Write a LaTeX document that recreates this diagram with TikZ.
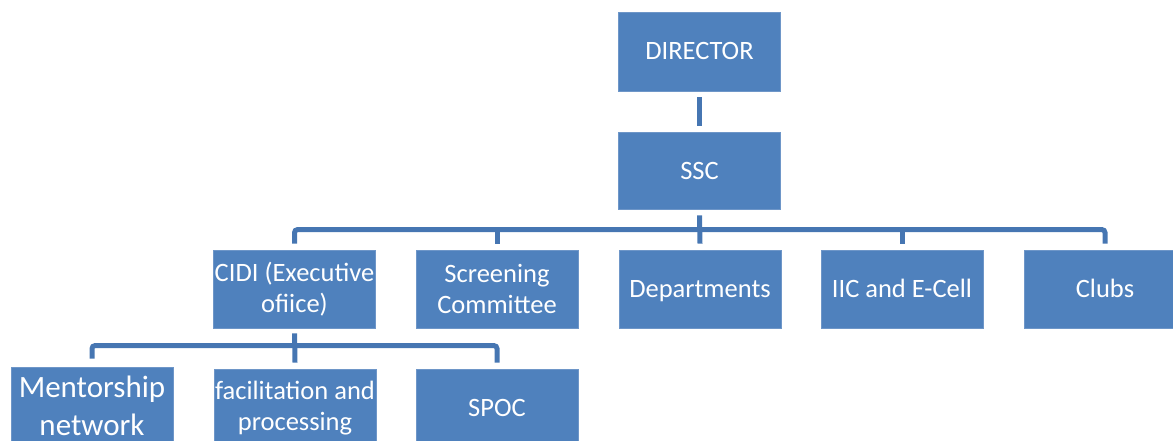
\documentclass[tikz,border=0pt]{standalone}
\usepackage{fontspec}
\setmainfont{Carlito}
\definecolor{boxblue}{RGB}{79,129,189}
\definecolor{boxedge}{RGB}{110,150,200}
\definecolor{lineblue}{RGB}{70,118,178}
\begin{document}
\begin{tikzpicture}[x=1pt,y=-1pt,
  orgbox/.style={rectangle, fill=boxblue, draw=boxedge, line width=0.8pt,
    minimum width=162pt, minimum height=78pt, inner sep=0pt,
    text=white, align=center, font=\fontsize{26.5}{31}\selectfont},
  single/.style={text height=17pt, text depth=0pt},
  bigtext/.style={font=\fontsize{31}{38}\selectfont},
  conn/.style={draw=lineblue, line width=5pt, rounded corners=3pt}]
\useasboundingbox (0,0) rectangle (1173,441);
\clip (0,0) rectangle (1173,441);
% boxes
\node[orgbox, single, minimum height=79pt] (dir) at (699.5,51.5) {DIRECTOR};
\node[orgbox, single, minimum height=77pt] (ssc) at (699.5,170.5) {SSC};
\node[orgbox] (cidi) at (294.5,289) {CIDI (Executive\\ofiice)};
\node[orgbox] (scr) at (497,289) {Screening\\Committee};
\node[orgbox, single] (dep) at (700,289) {Departments};
\node[orgbox, single] (iic) at (902,289) {IIC and E-Cell};
\node[orgbox, single] (clubs) at (1105,289) {Clubs};
\node[orgbox, bigtext] (ment) at (92,406) {Mentorship\\network};
\node[orgbox] (fac) at (295,408) {facilitation and\\processing};
\node[orgbox, single] (spoc) at (497,408) {SPOC};
% connectors
\draw[conn] ([yshift=-6pt]dir.south) -- ([yshift=6pt]ssc.north);
\draw[conn] ([yshift=-6pt]ssc.south) -- ([yshift=6pt]dep.north);
\draw[conn] ([yshift=6pt]cidi.north) -- ++(0,14pt) -| ([yshift=6pt]clubs.north);
\draw[conn] ([yshift=6pt]scr.north) -- ++(0,14pt);
\draw[conn] ([yshift=6pt]iic.north) -- ++(0,14pt);
\draw[conn] ([yshift=-5pt]cidi.south) -- ([yshift=6pt]fac.north);
\draw[conn] ([yshift=8pt]ment.north) -- ++(0,13pt) -| ([yshift=6pt]spoc.north);
\end{tikzpicture}
\end{document}
